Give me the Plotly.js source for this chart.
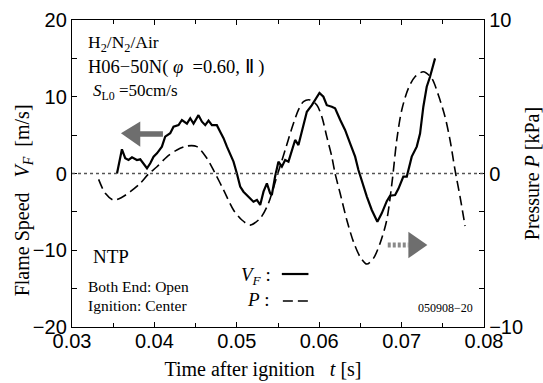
<!DOCTYPE html>
<html>
<head>
<meta charset="utf-8">
<script src="https://cdn.plot.ly/plotly-3.0.1.min.js"></script>
<style>html,body{margin:0;padding:0;background:#fff;}#chart{width:543px;height:383px;}</style>
</head>
<body>
<div id="chart"></div>
<script>
// Flame speed V_F [m/s] vs time after ignition t [s]
const tVF = [0.03546,0.03606,0.03646,0.03686,0.03728,0.03788,0.03828,0.03868,0.03910,0.03950,
  0.03990,0.04031,0.04091,0.04131,0.04192,0.04232,0.04293,0.04334,0.04395,0.04435,
  0.04475,0.04535,0.04577,0.04617,0.04657,0.04698,0.04758,0.04798,0.04839,0.04880,
  0.04920,0.04960,0.05001,0.05041,0.05081,0.05142,0.05202,0.05244,0.05284,0.05324,
  0.05365,0.05405,0.05425,0.05465,0.05505,0.05547,0.05587,0.05627,0.05668,0.05708,
  0.05748,0.05809,0.05850,0.05911,0.05951,0.06003,0.06051,0.06092,0.06153,0.06193,
  0.06254,0.06314,0.06375,0.06436,0.06476,0.06517,0.06578,0.06638,0.06706,0.06759,
  0.06820,0.06860,0.06921,0.06961,0.07021,0.07063,0.07123,0.07184,0.07224,0.07264,
  0.07305,0.07345,0.07406];
const vF = [0,3.15,2.0,1.76,2.1,1.76,1.85,1.33,0.68,1.33,
  2.19,2.63,3.5,4.8,5.24,6.1,6.3,6.97,6.5,7.2,
  6.5,7.6,6.75,6.3,6.9,6.3,6.3,5.45,4.6,3.5,
  2.4,1.54,0,-1.7,-2.37,-3.0,-3.67,-3.45,-4.1,-2.37,
  -1.28,-2.58,-2.8,-0.4,1.54,0.89,1.76,1.54,2.84,4.37,
  3.7,6.54,8.05,8.9,9.58,10.5,10.0,8.9,8.7,8.5,
  7.0,5.67,3.93,2.19,0.46,-1.07,-3.0,-4.75,-6.28,-5.19,
  -3.6,-2.9,-2.8,-2.0,-0.4,-0.4,2.2,3.5,5.2,8.7,
  11.3,12.6,15.0];

// Pressure P [kPa] vs time after ignition t [s]
const tP = [0.03323,0.03404,0.03504,0.03606,0.03707,0.03828,0.03929,0.04031,0.04152,0.04273,
  0.04395,0.04516,0.04637,0.04738,0.04839,0.04960,0.05062,0.05162,0.05284,0.05384,
  0.05486,0.05587,0.05668,0.05748,0.05809,0.05890,0.05971,0.06032,0.06092,0.06153,
  0.06193,0.06254,0.06335,0.06415,0.06496,0.06578,0.06658,0.06739,0.06820,0.06890,
  0.06941,0.07002,0.07082,0.07163,0.07264,0.07366,0.07446,0.07527,0.07588,0.07648,
  0.07709,0.07770];
const pP = [-0.38,-1.29,-1.73,-1.55,-1.18,-0.64,-0.03,0.44,1.09,1.53,
  1.79,1.75,0.99,0,-1.07,-2.38,-3.03,-3.36,-2.92,-1.94,
  -0.2,1.53,2.94,4.14,4.68,4.79,4.46,3.7,2.4,1.1,
  0,-1.29,-3.03,-4.44,-5.42,-5.9,-5.53,-4.55,-3.03,-0.3,
  2.18,4.14,5.55,6.3,6.63,6.2,5.11,3.7,2.18,0.23,
  -1.5,-3.42];

const xRange = [0.03, 0.08];
const yRange = [-20, 20];
const y2Range = [-10, 10];

const serif = 'Liberation Serif, Times New Roman, serif';
const sans = 'Liberation Sans, Arial, sans-serif';
const grey = '#6e6e6e';

const traces = [
  {x: tP, y: pP, yaxis: 'y2', type: 'scatter', mode: 'lines', name: 'P',
   line: {color: '#000', width: 1.6, dash: '10px,5px', shape: 'spline', smoothing: 0.8}, showlegend: false},
  {x: tVF, y: vF, type: 'scatter', mode: 'lines', name: 'V_F',
   line: {color: '#000', width: 2.2}, showlegend: false}
];

const axisCommon = {
  showgrid: false, zeroline: false, showline: true, linecolor: '#000', linewidth: 1.2,
  ticks: 'inside', ticklen: 5, tickwidth: 1, tickcolor: '#000',
  tickfont: {family: sans, size: 20, color: '#000'}
};

function ann(text, x, y, size, xanchor) {
  return {text: text, x: x, y: y, xref: 'paper', yref: 'paper', showarrow: false,
    xanchor: xanchor || 'left', yanchor: 'middle', font: {family: serif, size: size, color: '#000'}};
}

const yTitle = ann('Flame Speed&nbsp;&nbsp;&nbsp;<i>V</i><sub><i>F</i></sub>&nbsp;&nbsp;[m/s]', -0.117, 0.412, 20, 'center');
yTitle.textangle = -90;

const layout = {
  width: 543, height: 383,
  margin: {l: 72, r: 59, t: 20, b: 56},
  paper_bgcolor: '#fff', plot_bgcolor: '#fff',
  font: {family: serif, color: '#000', size: 16},
  showlegend: false,
  xaxis: Object.assign({}, axisCommon, {
    range: xRange, dtick: 0.01, tick0: 0.03, mirror: 'ticks', ticklabelstandoff: -4,
    minor: {dtick: 0.005, ticks: 'inside', ticklen: 4, tickcolor: '#000', showgrid: false},
    title: {text: 'Time after ignition&nbsp;&nbsp;&nbsp;<i>t</i> [s]&nbsp;&nbsp;&nbsp;&nbsp;&nbsp;&nbsp;', font: {family: serif, size: 20}, standoff: 10}
  }),
  yaxis: Object.assign({}, axisCommon, {
    range: yRange, dtick: 10,
    minor: {dtick: 5, ticks: 'inside', ticklen: 5, tickcolor: '#000', showgrid: false}
  }),
  yaxis2: Object.assign({}, axisCommon, {
    range: y2Range, dtick: 10, overlaying: 'y', side: 'right',
    minor: {dtick: 2.5, ticks: 'inside', ticklen: 5, tickcolor: '#000', showgrid: false},
    title: {text: 'Pressure <i>P</i> [kPa]', font: {family: serif, size: 20}, standoff: 12}
  }),
  shapes: [
    // zero reference line
    {type: 'line', xref: 'paper', x0: 0, x1: 1, yref: 'y', y0: 0, y1: 0,
     line: {color: '#555', width: 1.5, dash: '3px,3px'}},
    // left-pointing arrow (V_F -> left axis)
    {type: 'path', xref: 'paper', yref: 'paper',
     path: 'M 0.1188 0.631 L 0.1657 0.669 L 0.1657 0.638 L 0.2207 0.638 L 0.2207 0.620 L 0.1657 0.620 L 0.1657 0.587 Z',
     fillcolor: grey, line: {width: 0}},
    // right-pointing arrow (P -> right axis), dotted shaft
    {type: 'line', xref: 'paper', yref: 'paper', x0: 0.7664, x1: 0.8164, y0: 0.2671, y1: 0.2671,
     line: {color: '#8a8a8a', width: 5, dash: '3px,2px'}},
    {type: 'path', xref: 'paper', yref: 'paper',
     path: 'M 0.8164 0.3104 L 0.8625 0.2671 L 0.8164 0.2238 Z',
     fillcolor: grey, line: {width: 0}},
    // legend samples
    {type: 'line', xref: 'paper', yref: 'paper', x0: 0.5093, x1: 0.5739, y0: 0.1726, y1: 0.1726,
     line: {color: '#000', width: 2.2}},
    {type: 'line', xref: 'paper', yref: 'paper', x0: 0.5118, x1: 0.578, y0: 0.0847, y1: 0.0847,
     line: {color: '#000', width: 1.6, dash: '10px,5px'}}
  ],
  annotations: [
    yTitle,
    ann('H<sub>2</sub>/N<sub>2</sub>/Air', 0.034, 0.922, 17.5),
    ann('H06−50N(&nbsp;<i>φ</i>&nbsp;&nbsp;=0.60,&nbsp;Ⅱ&nbsp;)', 0.034, 0.845, 18.5),
    ann('<i>S</i><sub>L0</sub>&nbsp;=50cm/s', 0.046, 0.767, 17),
    ann('NTP', 0.046, 0.229, 19),
    ann('Both End: Open', 0.034, 0.132, 15.5),
    ann('Ignition: Center', 0.034, 0.071, 15.5),
    ann('<i>V</i><sub><i>F</i></sub> :', 0.489, 0.165, 19, 'right'),
    ann('<i>P</i> :', 0.4858, 0.088, 19, 'right'),
    ann('050908−20', 0.978, 0.0619, 12, 'right')
  ]
};

Plotly.newPlot('chart', traces, layout, {displayModeBar: false, staticPlot: true});
</script>
</body>
</html>
